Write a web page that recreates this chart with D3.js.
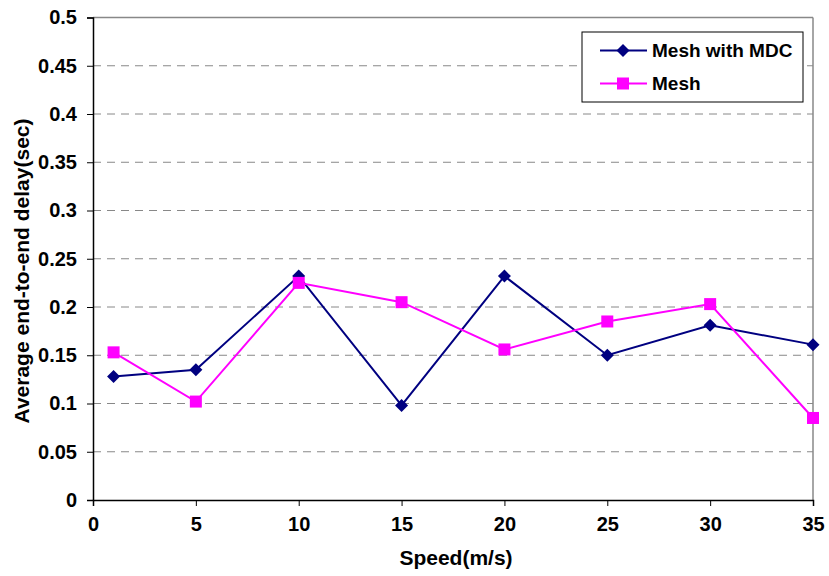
<!DOCTYPE html>
<html><head><meta charset="utf-8">
<script src="https://cdn.jsdelivr.net/npm/d3@7"></script>
<style>body{margin:0;background:#fff}svg{display:block}text{font-family:"Liberation Sans",Arial,sans-serif;font-weight:bold;fill:#000}</style>
</head><body><svg id="c" width="829" height="576"></svg>
<script>
const speeds = [1, 5, 10, 15, 20, 25, 30, 35];
const meshMDC = [0.128, 0.135, 0.232, 0.098, 0.232, 0.150, 0.181, 0.161];
const mesh = [0.153, 0.102, 0.225, 0.205, 0.156, 0.185, 0.203, 0.085];
const xTicks = [0, 5, 10, 15, 20, 25, 30, 35];
const yTicks = [0, 0.05, 0.1, 0.15, 0.2, 0.25, 0.3, 0.35, 0.4, 0.45, 0.5];
const seriesNames = ["Mesh with MDC", "Mesh"];
const colors = ["#000080", "#FF00FF"];

const svg = d3.select("#c");
const L = 93, R = 813, T = 17.5, B = 500;
const x = d3.scaleLinear().domain([0, 35]).range([L, R]);
const y = d3.scaleLinear().domain([0, 0.5]).range([B, T]);

// gridlines
svg.append("g").selectAll("line").data(yTicks.filter(d => d > 0 && d < 0.5)).join("line")
  .attr("x1", L).attr("x2", R).attr("y1", d => y(d)).attr("y2", d => y(d))
  .attr("stroke", "#888").attr("stroke-width", 1).attr("stroke-dasharray", "8,6");
// top & right border
svg.append("line").attr("x1", L).attr("x2", R).attr("y1", y(0.5)).attr("y2", y(0.5)).attr("stroke", "#888").attr("stroke-width", 1.5);
svg.append("line").attr("x1", R).attr("x2", R).attr("y1", T).attr("y2", B).attr("stroke", "#888").attr("stroke-width", 1.5);

// axes
const yAxis = d3.axisLeft(y).tickValues(yTicks).tickSize(6).tickPadding(10).tickFormat(d => String(+d.toFixed(2)));
const gy = svg.append("g").attr("transform", `translate(${L},0)`).call(yAxis);
const xAxis = d3.axisBottom(x).tickValues(xTicks).tickSize(6).tickPadding(11);
const gx = svg.append("g").attr("transform", `translate(0,${B})`).call(xAxis);
[gx, gy].forEach(g => {
  g.select(".domain").attr("stroke", "#000").attr("stroke-width", 1.5);
  g.selectAll(".tick line").attr("stroke", "#000").attr("stroke-width", 1);
  g.selectAll(".tick text").style("font-size", "20px").style("font-family", "Liberation Sans, Arial, sans-serif").style("font-weight", "bold").attr("fill", "#000");
});

// axis titles
svg.append("text").attr("x", 456).attr("y", 565).attr("text-anchor", "middle").style("font-size", "21px").text("Speed(m/s)");
svg.append("text").attr("transform", `translate(28.5,271) rotate(-90)`).attr("text-anchor", "middle").style("font-size", "21px").text("Average end-to-end delay(sec)");

const line = d3.line().x((d, i) => x(speeds[i])).y(d => y(d));
const data = [meshMDC, mesh];
data.forEach((vals, k) => {
  svg.append("path").datum(vals).attr("d", line).attr("fill", "none").attr("stroke", colors[k]).attr("stroke-width", 2);
});
const diamond = s => `M0,${-s}L${s},0L0,${s}L${-s},0Z`;
svg.append("g").selectAll("path").data(meshMDC).join("path")
  .attr("d", diamond(6.5)).attr("transform", (d, i) => `translate(${x(speeds[i])},${y(d)})`).attr("fill", colors[0]);
svg.append("g").selectAll("rect").data(mesh).join("rect")
  .attr("x", (d, i) => x(speeds[i]) - 6).attr("y", d => y(d) - 6).attr("width", 12).attr("height", 12).attr("fill", colors[1]);

// legend
const lg = svg.append("g");
lg.append("rect").attr("x", 582).attr("y", 32).attr("width", 221).attr("height", 70).attr("fill", "#fff").attr("stroke", "#000").attr("stroke-width", 1);
seriesNames.forEach((n, k) => {
  const ly = 50.5 + k * 33;
  lg.append("line").attr("x1", 600).attr("x2", 647).attr("y1", ly).attr("y2", ly).attr("stroke", colors[k]).attr("stroke-width", 2);
  if (k === 0) lg.append("path").attr("d", diamond(6.5)).attr("transform", `translate(623,${ly})`).attr("fill", colors[0]);
  else lg.append("rect").attr("x", 617).attr("y", ly - 6).attr("width", 12).attr("height", 12).attr("fill", colors[1]);
  lg.append("text").attr("x", 652).attr("y", ly + 6.5).style("font-size", "19px").text(n);
});
</script></body></html>
